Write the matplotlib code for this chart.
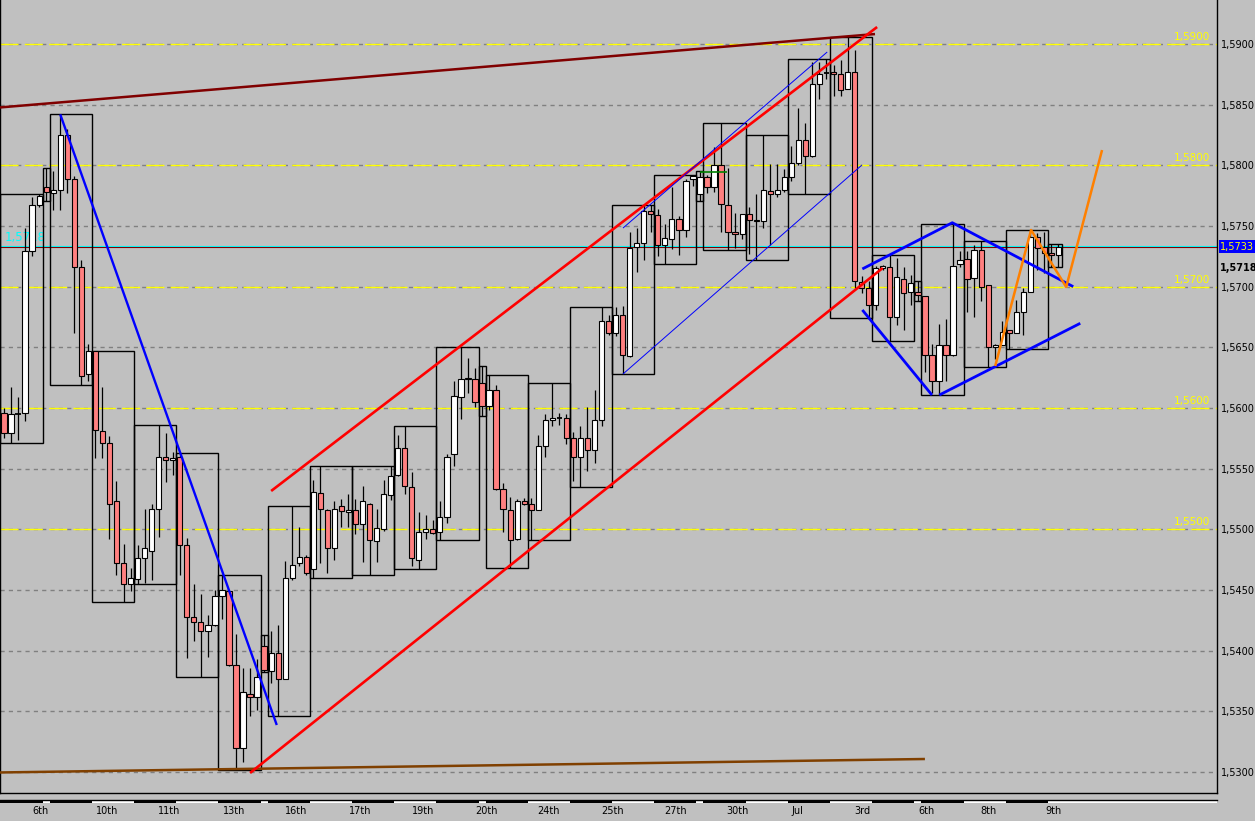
import matplotlib
matplotlib.use("Agg")
import matplotlib.pyplot as plt
import matplotlib.transforms as mtransforms
from matplotlib.patches import Rectangle
import numpy as np

# ---------------- data (4-hour candles) ----------------
opens = [1.5596,1.5579,1.5595,1.5596,1.5729,1.5767,1.5782,1.5777,1.5780,1.5825,
         1.5789,1.5716,1.5628,1.5647,1.5581,1.5571,1.5523,1.5472,1.5455,1.5459,
         1.5476,1.5482,1.5517,1.5560,1.5557,1.5560,1.5487,1.5428,1.5424,1.5416,
         1.5421,1.5445,1.5449,1.5388,1.5320,1.5364,1.5362,1.5404,1.5383,1.5398,
         1.5377,1.5460,1.5472,1.5477,1.5467,1.5530,1.5516,1.5485,1.5519,1.5514,
         1.5516,1.5504,1.5521,1.5490,1.5500,1.5528,1.5545,1.5567,1.5535,1.5475,
         1.5498,1.5500,1.5498,1.5510,1.5562,1.5609,1.5624,1.5624,1.5621,1.5602,
         1.5615,1.5533,1.5516,1.5492,1.5523,1.5521,1.5516,1.5569,1.5590,1.5592,
         1.5592,1.5575,1.5560,1.5575,1.5565,1.5590,1.5672,1.5662,1.5677,1.5643,
         1.5733,1.5736,1.5762,1.5759,1.5734,1.5739,1.5756,1.5747,1.5789,1.5776,
         1.5790,1.5782,1.5800,1.5767,1.5745,1.5743,1.5760,1.5755,1.5754,1.5779,
         1.5776,1.5780,1.5790,1.5802,1.5821,1.5808,1.5867,1.5876,1.5877,1.5875,
         1.5863,1.5877,1.5704,1.5699,1.5685,1.5715,1.5716,1.5675,1.5706,1.5696,
         1.5696,1.5692,1.5644,1.5622,1.5652,1.5644,1.5719,1.5723,1.5707,1.5730,
         1.5701,1.5650,1.5652,1.5664,1.5662,1.5679,1.5696,1.5741,1.5733,1.5728,
         1.5726]
highs = [1.5600,1.5617,1.5609,1.5748,1.5774,1.5776,1.5798,1.5795,1.5842,1.5830,
         1.5791,1.5722,1.5653,1.5647,1.5617,1.5577,1.5540,1.5488,1.5468,1.5487,
         1.5517,1.5521,1.5586,1.5579,1.5564,1.5563,1.5493,1.5455,1.5447,1.5429,
         1.5450,1.5462,1.5449,1.5414,1.5386,1.5386,1.5393,1.5413,1.5416,1.5421,
         1.5474,1.5519,1.5502,1.5479,1.5541,1.5552,1.5517,1.5523,1.5525,1.5529,
         1.5525,1.5536,1.5522,1.5517,1.5541,1.5552,1.5578,1.5585,1.5547,1.5514,
         1.5512,1.5508,1.5523,1.5562,1.5622,1.5650,1.5641,1.5633,1.5635,1.5627,
         1.5619,1.5538,1.5527,1.5525,1.5526,1.5526,1.5578,1.5595,1.5621,1.5596,
         1.5595,1.5580,1.5585,1.5601,1.5615,1.5683,1.5677,1.5683,1.5684,1.5745,
         1.5748,1.5767,1.5767,1.5764,1.5752,1.5782,1.5758,1.5789,1.5792,1.5795,
         1.5792,1.5815,1.5835,1.5798,1.5761,1.5760,1.5766,1.5776,1.5825,1.5801,
         1.5801,1.5797,1.5816,1.5847,1.5835,1.5885,1.5885,1.5888,1.5883,1.5887,
         1.5906,1.5895,1.5709,1.5705,1.5717,1.5718,1.5726,1.5724,1.5716,1.5710,
         1.5705,1.5692,1.5653,1.5669,1.5673,1.5752,1.5729,1.5729,1.5734,1.5738,
         1.5701,1.5653,1.5672,1.5664,1.5689,1.5699,1.5747,1.5744,1.5745,1.5735,
         1.5735]
lows = [1.5575,1.5571,1.5574,1.5589,1.5725,1.5766,1.5771,1.5763,1.5763,1.5777,
        1.5662,1.5619,1.5622,1.5559,1.5559,1.5492,1.5462,1.5440,1.5449,1.5455,
        1.5456,1.5458,1.5494,1.5539,1.5545,1.5462,1.5394,1.5408,1.5378,1.5395,
        1.5420,1.5426,1.5387,1.5302,1.5308,1.5346,1.5351,1.5382,1.5373,1.5346,
        1.5377,1.5458,1.5470,1.5462,1.5460,1.5472,1.5464,1.5475,1.5502,1.5502,
        1.5496,1.5473,1.5462,1.5473,1.5499,1.5524,1.5544,1.5529,1.5470,1.5467,
        1.5492,1.5496,1.5491,1.5505,1.5552,1.5591,1.5612,1.5601,1.5593,1.5598,
        1.5532,1.5498,1.5468,1.5491,1.5520,1.5491,1.5516,1.5560,1.5585,1.5586,
        1.5570,1.5540,1.5535,1.5548,1.5555,1.5585,1.5660,1.5659,1.5628,1.5642,
        1.5712,1.5722,1.5745,1.5725,1.5719,1.5731,1.5726,1.5741,1.5783,1.5771,
        1.5777,1.5778,1.5745,1.5730,1.5732,1.5739,1.5727,1.5722,1.5748,1.5734,
        1.5774,1.5778,1.5787,1.5800,1.5776,1.5807,1.5855,1.5871,1.5857,1.5857,
        1.5863,1.5699,1.5695,1.5674,1.5681,1.5714,1.5655,1.5668,1.5664,1.5685,
        1.5688,1.5630,1.5612,1.5611,1.5622,1.5643,1.5716,1.5679,1.5675,1.5688,
        1.5634,1.5640,1.5652,1.5649,1.5662,1.5660,1.5696,1.5714,1.5711,1.5716,
        1.5716]
closes = [1.5579,1.5595,1.5595,1.5729,1.5767,1.5775,1.5778,1.5780,1.5825,1.5789,
          1.5716,1.5626,1.5647,1.5582,1.5571,1.5521,1.5472,1.5455,1.5460,1.5476,
          1.5485,1.5517,1.5560,1.5557,1.5559,1.5487,1.5428,1.5424,1.5416,1.5421,
          1.5445,1.5450,1.5388,1.5320,1.5366,1.5362,1.5378,1.5384,1.5398,1.5377,
          1.5460,1.5471,1.5477,1.5464,1.5531,1.5517,1.5485,1.5517,1.5515,1.5516,
          1.5504,1.5523,1.5491,1.5501,1.5529,1.5544,1.5567,1.5536,1.5476,1.5498,
          1.5500,1.5497,1.5510,1.5560,1.5610,1.5624,1.5625,1.5605,1.5602,1.5615,
          1.5533,1.5517,1.5491,1.5523,1.5521,1.5516,1.5569,1.5590,1.5592,1.5592,
          1.5575,1.5560,1.5575,1.5565,1.5590,1.5672,1.5662,1.5677,1.5644,1.5732,
          1.5736,1.5762,1.5760,1.5734,1.5740,1.5756,1.5747,1.5787,1.5791,1.5790,
          1.5782,1.5800,1.5768,1.5745,1.5743,1.5760,1.5755,1.5754,1.5780,1.5776,
          1.5780,1.5790,1.5802,1.5821,1.5808,1.5867,1.5875,1.5876,1.5875,1.5862,
          1.5877,1.5705,1.5699,1.5685,1.5715,1.5717,1.5675,1.5708,1.5695,1.5703,
          1.5693,1.5644,1.5622,1.5652,1.5644,1.5717,1.5722,1.5706,1.5730,1.5700,
          1.5650,1.5652,1.5663,1.5662,1.5679,1.5696,1.5741,1.5732,1.5728,1.5726,
          1.5733]

# first candle index of every trading session (daily range boxes)
day_starts = [0, 6, 7, 13, 19, 25, 31, 37, 38, 44, 50, 56, 62, 68, 69, 75, 81,
              87, 93, 99, 100, 106, 112, 118, 124, 130, 131, 137, 143, 149]

date_labels = ['6th', '10th', '11th', '13th', '16th', '17th', '19th', '20th', '24th',
               '25th', '27th', '30th', 'Jul', '3rd', '6th', '8th', '9th']
date_label_pos = [5.26, 14.65, 23.5, 32.7, 41.5, 50.6, 59.6, 68.6, 77.5, 86.5,
                  95.5, 104.4, 112.8, 122.1, 131.2, 140.1, 149.3]

grid_levels = [1.5300, 1.5350, 1.5400, 1.5450, 1.5500, 1.5550, 1.5600, 1.5650,
               1.5700, 1.5750, 1.5800, 1.5850, 1.5900]
yellow_levels = [1.5900, 1.5800, 1.5700, 1.5600, 1.5500]
last_price = 1.5733
bid_marker = 1.5718

# drawn trend lines: (candle index, price) end points
maroon_line = [(-0.57, 1.58477), (123.9, 1.59082)]
brown_line = [(-0.57, 1.52996), (131.0, 1.53107)]
blue_down_line = [(8.0, 1.5842), (38.8, 1.53387)]
red_upper = [(38.0, 1.55316), (124.2, 1.5914)]
red_lower = [(35.0, 1.52992), (125.0, 1.57154)]
thin_blue_upper = [(88.05, 1.57483), (117.1, 1.58934)]
thin_blue_lower = [(88.05, 1.5628), (122.05, 1.58003)]
wedge_top = [(122.1, 1.57146), (134.9, 1.57527), (152.1, 1.5700)]
wedge_left = [(122.1, 1.56808), (132.0, 1.56107)]
wedge_bottom = [(133.05, 1.56107), (153.1, 1.56698)]
orange_path = [(141.0, 1.56346), (146.1, 1.57467), (151.1, 1.56997), (156.2, 1.58126)]
green_mark = [(99.0, 1.57943), (102.9, 1.57943)]

# ---------------- figure ----------------
W, H = 1255, 821
BG = '#C0C0C0'
fig = plt.figure(figsize=(W / 100, H / 100), dpi=100, facecolor=BG)
ax = fig.add_axes([0, 28 / H, 1217 / W, 793 / H])
ax.set_facecolor(BG)
ax.set_xlim(-0.57, 172.55)
ax.set_ylim(1.528268, 1.593626)

for lv in grid_levels:
    ax.axhline(lv, color='#808080', lw=1, ls=(0, (3, 3)), zorder=0.5)
for lv in yellow_levels:
    ax.axhline(lv, color='#FFFF00', lw=1, ls=(0, (13, 4.5)), zorder=0.6)
    ax.annotate(f"{lv:.4f}".replace('.', ','), xy=(1, lv),
                xycoords=('axes fraction', 'data'), xytext=(-5, 1.5),
                textcoords='offset points', ha='right', va='bottom',
                color='#FFFF00', fontsize=7.5, zorder=5)

# current price lines
ax.axhline(last_price + 0.00005, color='#00FFFF', lw=0.8, zorder=1)
ax.axhline(last_price - 0.00005, color='#800000', lw=0.8, zorder=1)

# left price text (partly hidden by candles)
ax.text(0.14, 1.57405, '1,5718', color='#00FFFF', fontsize=8.5,
        ha='left', va='center', zorder=1.5)

o = np.array(opens); h = np.array(highs); l = np.array(lows); c = np.array(closes)
x = np.arange(len(o))

# daily range boxes
bounds = day_starts + [len(o)]
for s, e in zip(bounds[:-1], bounds[1:]):
    hi = h[s:e].max(); lo = l[s:e].min()
    ax.add_patch(Rectangle((s - 0.5, lo), e - s, hi - lo, fill=False,
                           ec='black', lw=1.0, zorder=2))

# candles
ax.vlines(x, l, h, color='black', lw=0.9, zorder=2.5)
up = c > o
down = c < o
doji = c == o
ax.bar(x[up], (c - o)[up], bottom=o[up], width=0.75, color='white',
       edgecolor='black', lw=0.8, zorder=3)
ax.bar(x[down], (o - c)[down], bottom=c[down], width=0.75, color='#FF8080',
       edgecolor='black', lw=0.8, zorder=3)
ax.hlines(o[doji], x[doji] - 0.4, x[doji] + 0.4, color='black', lw=1.3, zorder=3)

def draw(pts, color, lw):
    xs, ys = zip(*pts)
    ax.plot(xs, ys, color=color, lw=lw, zorder=4, solid_capstyle='butt')

draw(maroon_line, '#800000', 1.8)
draw(brown_line, '#804000', 1.8)
draw(blue_down_line, '#0000FF', 1.7)
draw(red_upper, '#FF0000', 1.9)
draw(red_lower, '#FF0000', 1.9)
draw(thin_blue_upper, '#0000FF', 0.7)
draw(thin_blue_lower, '#0000FF', 0.7)
draw(wedge_top, '#0000FF', 2.0)
draw(wedge_left, '#0000FF', 2.0)
draw(wedge_bottom, '#0000FF', 2.0)
draw(orange_path, '#FF8000', 1.8)
draw(green_mark, '#008000', 1.2)

# axes styling
ax.set_xticks([])
ax.yaxis.tick_right()
ax.set_yticks(grid_levels)
ax.set_yticklabels([f"{v:.4f}".replace('.', ',') for v in grid_levels],
                   fontsize=7, color='black')
ax.tick_params(axis='y', length=0, pad=2.5)
ax.spines['top'].set_visible(False)
for sp in ['left', 'right', 'bottom']:
    ax.spines[sp].set_color('black')
    ax.spines[sp].set_linewidth(1)

ax.annotate(f"{last_price:.4f}".replace('.', ','), xy=(1, last_price),
            xycoords=('axes fraction', 'data'), xytext=(2, 0),
            textcoords='offset points', ha='left', va='center', color='#FFFF00',
            fontsize=7, annotation_clip=False,
            bbox=dict(boxstyle='square,pad=0.12', fc='#0000FF', ec='none'))
ax.annotate(f"{bid_marker:.4f}".replace('.', ','), xy=(1, bid_marker),
            xycoords=('axes fraction', 'data'), xytext=(2, -2),
            textcoords='offset points', ha='left', va='center', color='black',
            fontsize=7, fontweight='bold', annotation_clip=False)

# date strip under the chart
trans = mtransforms.blended_transform_factory(ax.transData, fig.transFigure)
y_top = (H - 800.3) / H
y_bot = (H - 802.6) / H
for k, (s, e) in enumerate(zip(bounds[:-1], bounds[1:])):
    right = e - 0.5 if e < len(o) else 172.55
    left = max(s - 0.5, -0.57)
    col = 'black' if k % 2 == 0 else 'white'
    fig.patches.append(Rectangle((left, y_bot), right - left, y_top - y_bot,
                                 transform=trans, fc=col, ec='none'))
fig.add_artist(plt.Line2D([-0.57, 172.55], [(H - 799.6) / H] * 2, transform=trans,
                          color='black', lw=1.0))
for lab, pos in zip(date_labels, date_label_pos):
    fig.text(pos, (H - 811) / H, lab, transform=trans, ha='center', va='center',
             fontsize=7, color='black')

fig.savefig('out.png', dpi=100, facecolor=BG)
